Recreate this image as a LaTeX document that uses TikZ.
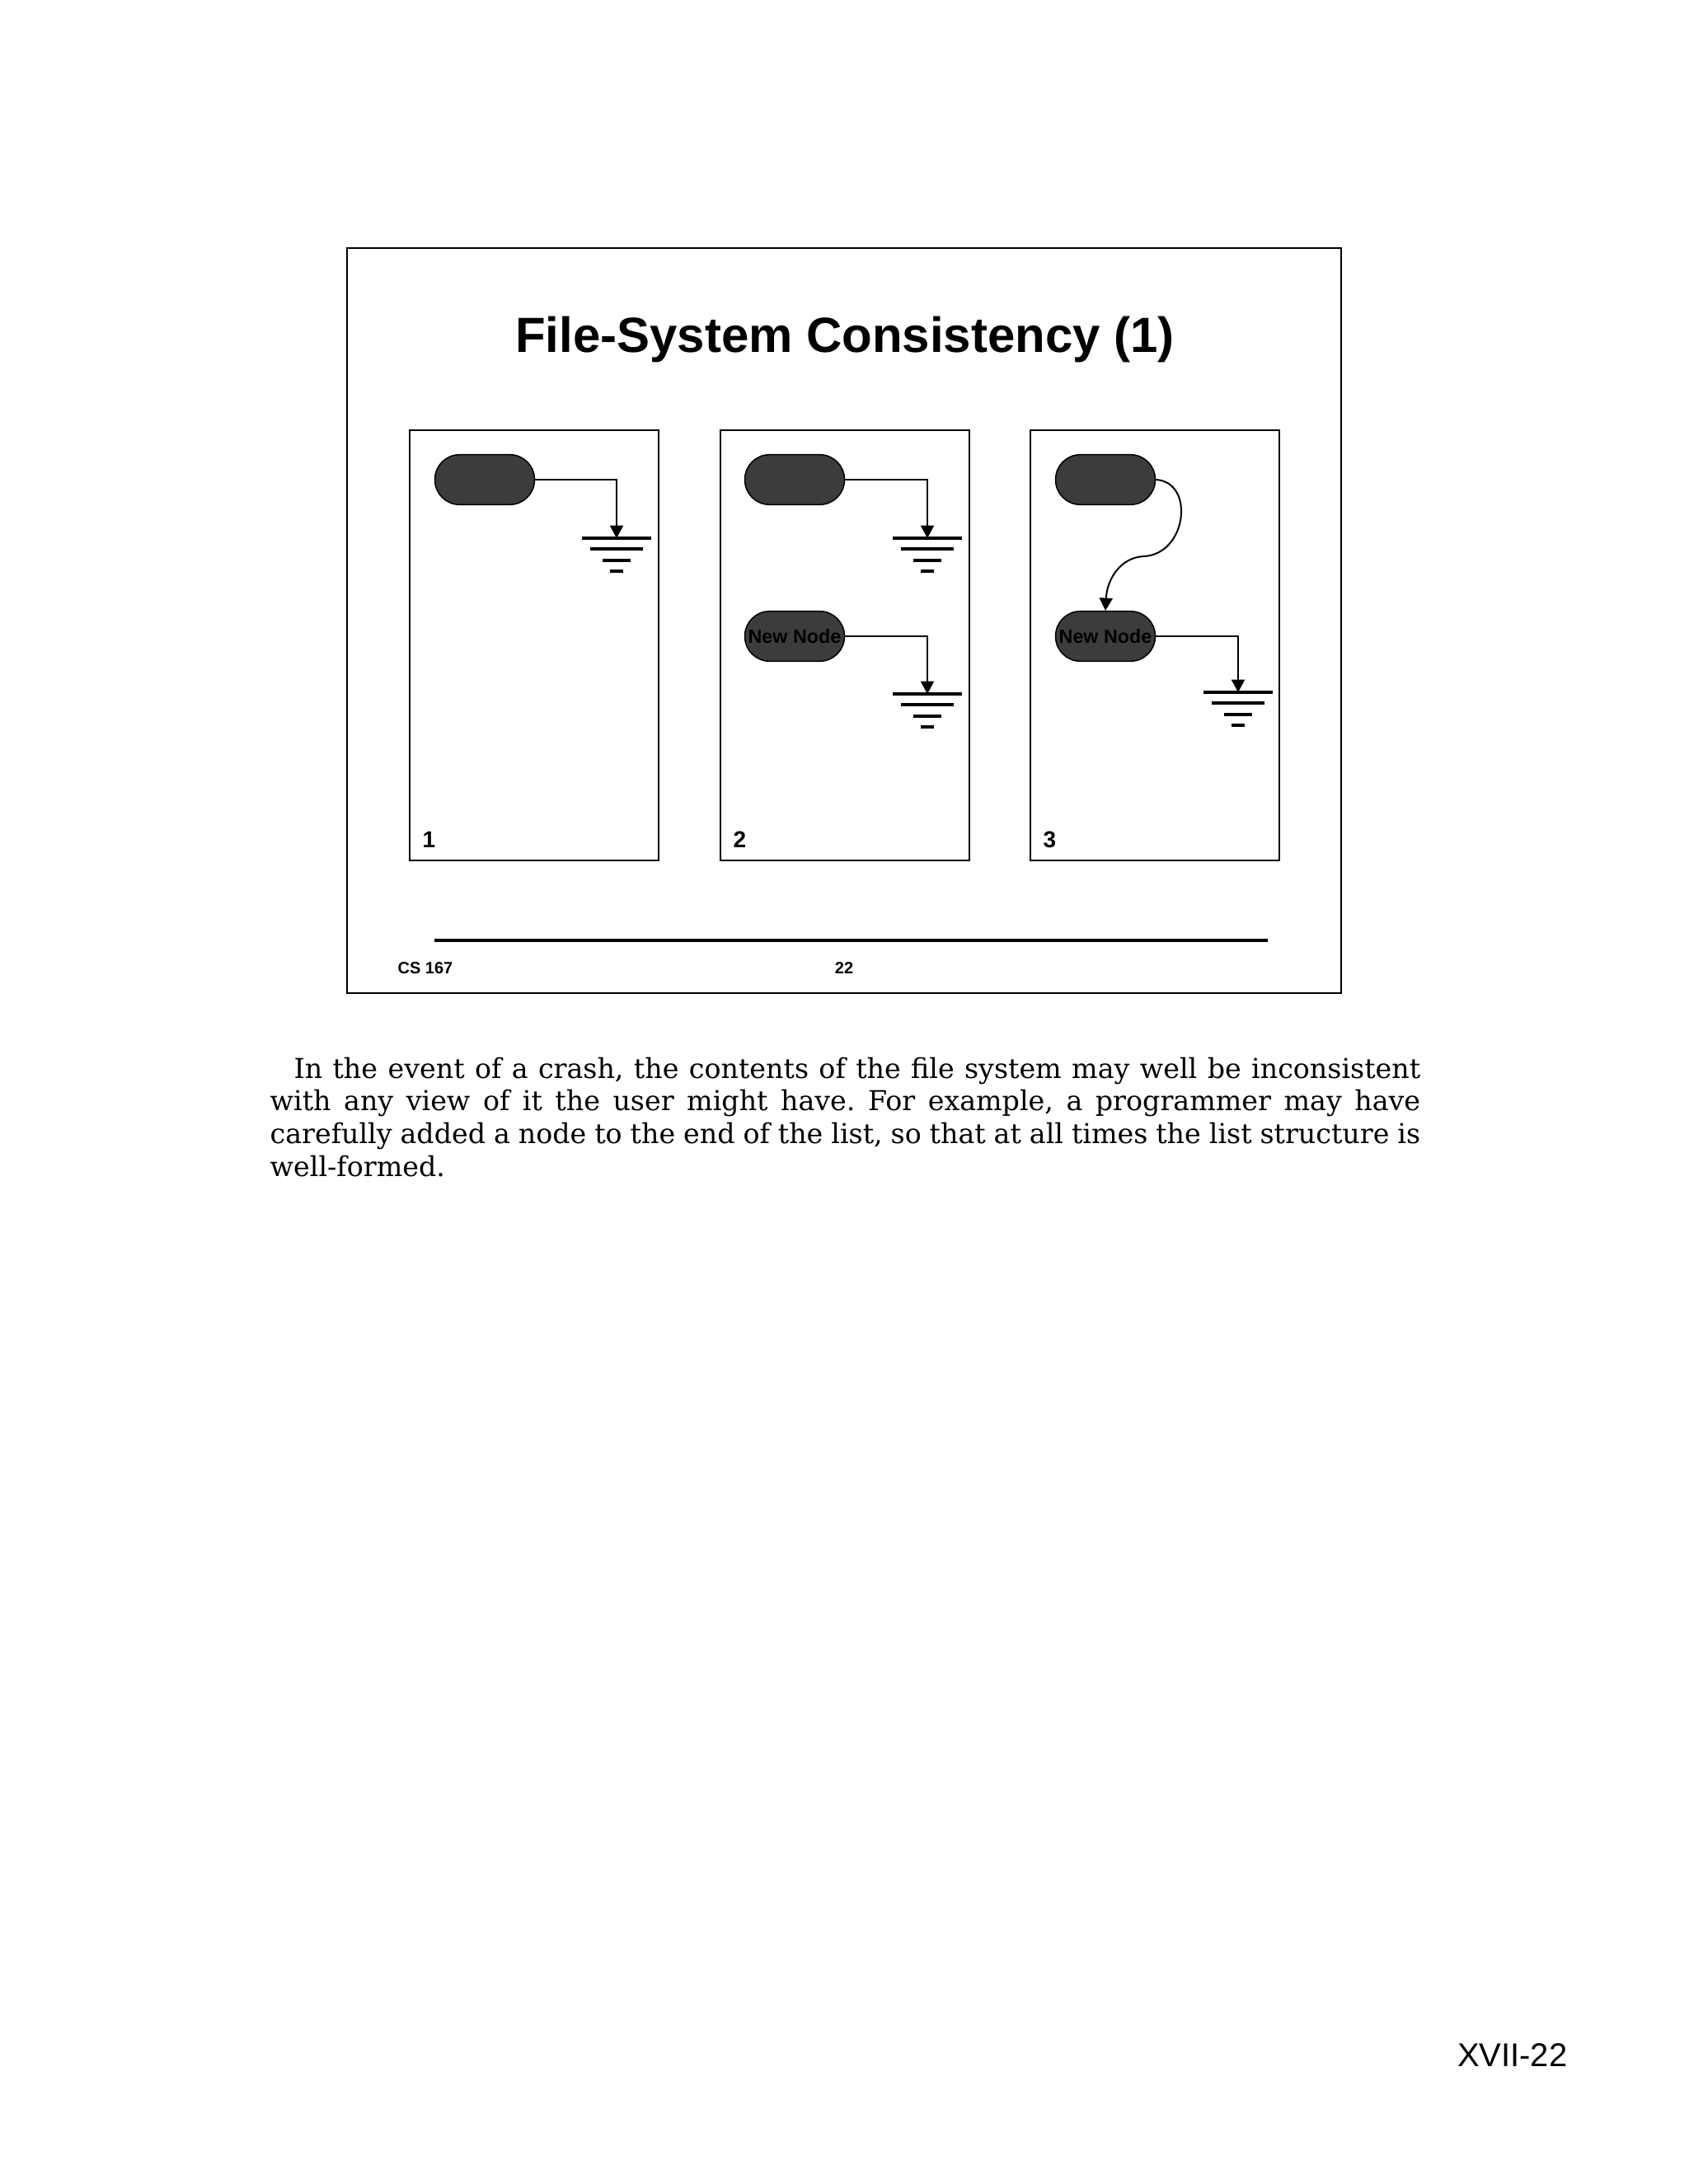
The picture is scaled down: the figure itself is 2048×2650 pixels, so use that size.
\documentclass[tikz,border=0pt]{standalone}
\usepackage{fontspec}
\setmainfont{DejaVu Serif}
\setsansfont{Liberation Sans}
\usetikzlibrary{positioning}
\usetikzlibrary{arrows.meta}
\definecolor{nodegray}{HTML}{3C3C3C}
\frenchspacing

\begin{document}
\begin{tikzpicture}[x=0.30025pt,y=-0.30025pt,
		>={Triangle[length=4.6pt,width=4.8pt]},
		lnode/.style={draw=black,
				rectangle,
				fill=nodegray,
				line width=0.45pt,
				rounded corners=9pt,
				minimum width=36.3pt,
				minimum height=18.2pt,
				inner sep=0pt,
				font=\sffamily\bfseries\fontsize{7}{8}\selectfont},
		panel/.style={draw=black, line width=0.45pt},
		link/.style={->, line width=0.6pt},
		num/.style={anchor=base west, inner sep=0pt, font=\sffamily\bfseries\fontsize{8.4}{10}\selectfont},
		earth/.pic={\draw[line width=1pt] (-42,0) -- (42,0) (-32,13) -- (32,13) (-17,27) -- (17,27) (-8,40) -- (8,40);}]
	\useasboundingbox (0,0) rectangle (2048,2650);
	% slide frame
	\draw[line width=0.6pt] (421,301) rectangle (1627,1205);
	\node[anchor=base, inner sep=0pt, font=\sffamily\bfseries\fontsize{18}{22}\selectfont] (title) at (1025,428) {File-System Consistency (1)};
	% panel 1
	\draw[panel] (497,522) rectangle (799,1044);
	\node[lnode] (head1) at (588,582) {};
	\coordinate (g1) at (748,653);
	\pic at (g1) {earth};
	\draw[link] (head1.east) -| (g1);
	\node[num] (lab1) at (512,1028) {1};
	% panel 2
	\draw[panel] (874,522) rectangle (1176,1044);
	\node[lnode] (head2) at (964,582) {};
	\node[lnode] (new2) at (964,772) {New Node};
	\coordinate (g2) at (1125,653);
	\coordinate (g2b) at (1125,842);
	\pic at (g2) {earth};
	\pic at (g2b) {earth};
	\draw[link] (head2.east) -| (g2);
	\draw[link] (new2.east) -| (g2b);
	\node[num] (lab2) at (889,1028) {2};
	% panel 3
	\draw[panel] (1250,522) rectangle (1552,1044);
	\node[lnode] (head3) at (1341,582) {};
	\node[lnode] (new3) at (1341,772) {New Node};
	\coordinate (g3) at (1502,840);
	\pic at (g3) {earth};
	\draw[link] (new3.east) -| (g3);
	\coordinate (bend) at (1388,675);
	\draw[link] (head3.east) .. controls (1450,585) and (1440,672) .. (bend) .. controls (1360,676) and (1343,702) .. (new3.north);
	\node[num] (lab3) at (1265,1028) {3};
	% footer
	\draw[line width=1pt] (527,1141) -- (1538,1141);
	\node[anchor=base west, inner sep=0pt, font=\sffamily\bfseries\fontsize{6}{7}\selectfont] (course) at (482,1181) {CS 167};
	\node[anchor=base, inner sep=0pt, font=\sffamily\bfseries\fontsize{6}{7}\selectfont] (slideno) at (1024,1181) {22};
	% notes
	\node[anchor=base west, inner sep=0pt, text width=419pt, align=justify, font=\fontsize{10}{12}\selectfont] (notes) at (327,1308)
		{\hspace*{8.7pt}In the event of a crash, the contents of the file system may well be inconsistent\linebreak
		with any view of it the user might have. For example, a programmer may have\linebreak
		carefully added a node to the end of the list, so that at all times the list structure is\linebreak
		well-formed.};
	\node[anchor=base east, inner sep=0pt, font=\sffamily\fontsize{12}{14}\selectfont] (pageno) at (1902,2507) {XVII-22};
\end{tikzpicture}
\end{document}
